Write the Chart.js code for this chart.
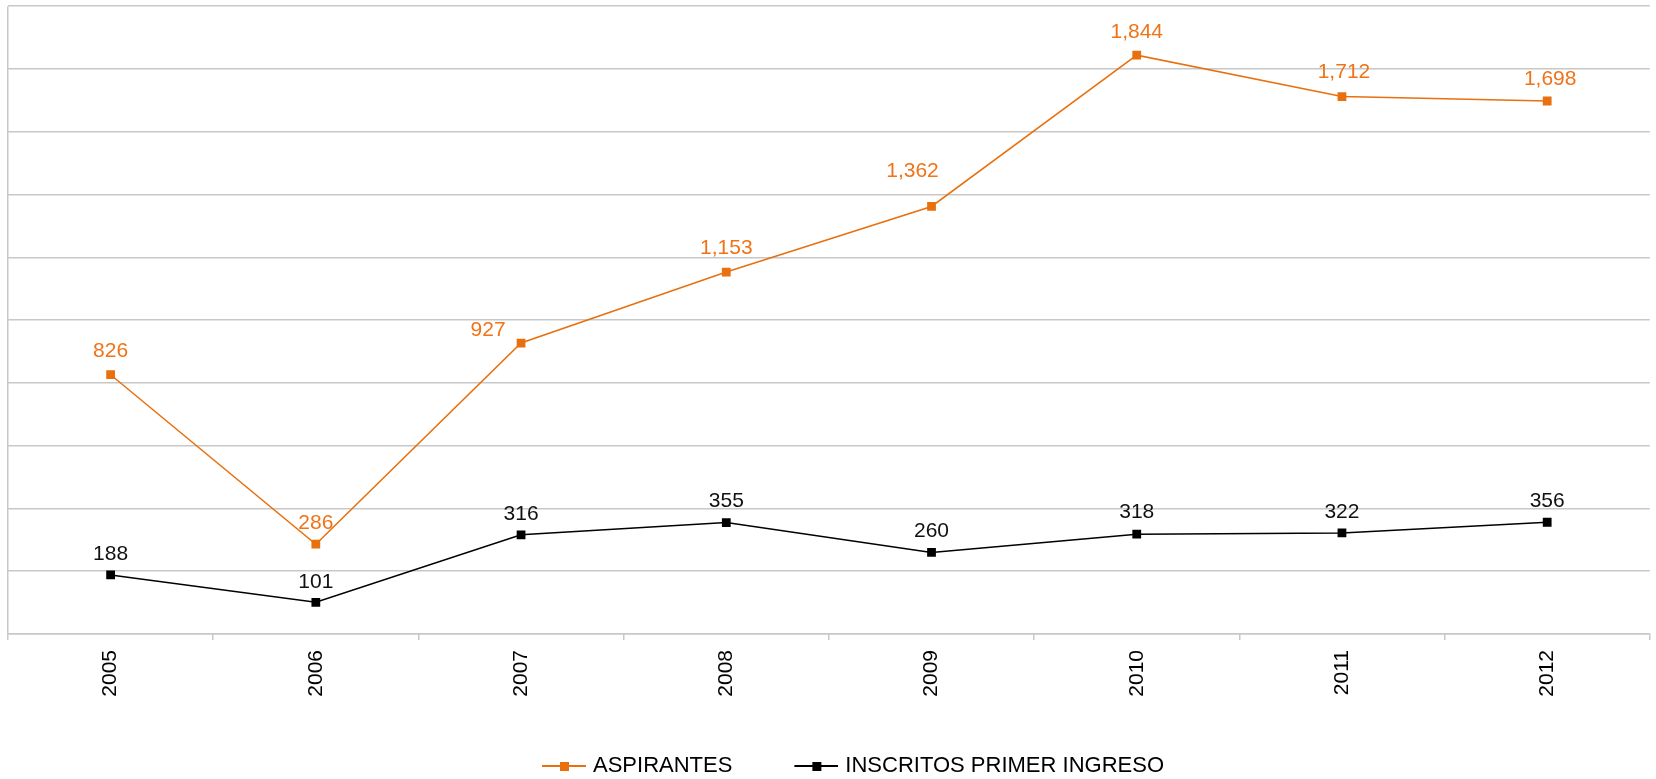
<!DOCTYPE html>
<html>
<head>
<meta charset="utf-8">
<script src="https://cdn.jsdelivr.net/npm/chart.js@4.4.1/dist/chart.umd.min.js"></script>
<style>
  body { margin: 0; background: #fff; }
  #wrap { width: 1656px; height: 779px; }
</style>
</head>
<body>
<div id="wrap"><canvas id="graf" width="1656" height="779"></canvas></div>
<script>
// Datos
const anios = ['2005', '2006', '2007', '2008', '2009', '2010', '2011', '2012'];
const aspirantes = [826, 286, 927, 1153, 1362, 1844, 1712, 1698];
const inscritos = [188, 101, 316, 355, 260, 318, 322, 356];

// Desplazamiento de algunas etiquetas (como en el original)
const offsetAspX = [0, 0, -33, 0, -19, 0, 2, 3];
const offsetAspY = [-24, -21, -13, -24, -35, -23, -24, -22];
const offsetInsX = [0, 0, 0, 0, 0, 0, 0, 0];
const offsetInsY = [-21, -20, -21, -21, -21, -22, -21, -21];

const naranja = '#E8700E';
const negro = '#000000';
const gris = '#c8c8c8';
const fuente = "'Liberation Sans', Arial, sans-serif";

// Icono de leyenda: hueco a la izquierda + línea con marcador cuadrado
const huecoLeyenda = 38;
const largoLinea = 44;
const sobra = 4; // la línea se acerca un poco más al texto
function iconoLeyenda(color) {
    const c = document.createElement('canvas');
    c.width = huecoLeyenda + largoLinea + 2 * sobra;
    c.height = 10;
    const g = c.getContext('2d');
    const x0 = huecoLeyenda + 2 * sobra;
    g.strokeStyle = color;
    g.lineWidth = 2;
    g.beginPath();
    g.moveTo(x0, 5);
    g.lineTo(x0 + largoLinea, 5);
    g.stroke();
    g.fillStyle = color;
    g.fillRect(x0 + 18, 1, 9, 9);
    return c;
}

// Etiquetas de datos encima de cada punto
const etiquetas = {
    id: 'etiquetas',
    afterDatasetsDraw(chart) {
        const ctx = chart.ctx;
        ctx.save();
        ctx.font = '21px ' + fuente;
        ctx.textAlign = 'center';
        ctx.textBaseline = 'middle';
        chart.data.datasets.forEach((ds, i) => {
            const meta = chart.getDatasetMeta(i);
            meta.data.forEach((p, j) => {
                ctx.fillStyle = ds.labelColor;
                const txt = ds.data[j].toLocaleString('en-US');
                ctx.fillText(txt, p.x + ds.offX[j], p.y + ds.offY[j]);
            });
        });
        ctx.restore();
    }
};

// Mover la leyenda a su sitio
const moverLeyenda = {
    id: 'moverLeyenda',
    afterLayout(chart) {
        const l = chart.legend;
        l.top += 8; l.bottom += 8;
        l.left += 3; l.right += 3;
    }
};

new Chart(document.getElementById('graf'), {
    type: 'line',
    data: {
        labels: anios,
        datasets: [{
            label: 'ASPIRANTES',
            data: aspirantes,
            borderColor: naranja,
            backgroundColor: naranja,
            borderWidth: 1.5,
            pointStyle: 'rect',
            pointRadius: 6.2,
            pointBorderWidth: 0,
            tension: 0,
            labelColor: '#F07318',
            offX: offsetAspX,
            offY: offsetAspY
        }, {
            label: 'INSCRITOS PRIMER INGRESO',
            data: inscritos,
            borderColor: negro,
            backgroundColor: negro,
            borderWidth: 1.5,
            pointStyle: 'rect',
            pointRadius: 6.2,
            pointBorderWidth: 0,
            tension: 0,
            labelColor: '#111111',
            offX: offsetInsX,
            offY: offsetInsY
        }]
    },
    options: {
        responsive: false,
        animation: false,
        devicePixelRatio: 1,
        layout: { padding: { left: 8, right: 6, top: 5, bottom: 0 } },
        scales: {
            x: {
                offset: true,
                grid: {
                    offset: true,
                    color: ctx => (ctx.index === 0 || ctx.index === anios.length) ? gris : 'rgba(0,0,0,0)',
                    tickColor: gris,
                    tickLength: 6,
                    lineWidth: 1.5
                },
                border: { display: true, color: gris, width: 1.5 },
                ticks: {
                    minRotation: 90,
                    maxRotation: 90,
                    padding: 10,
                    color: '#000',
                    font: { family: fuente, size: 21 }
                },
                afterFit: scale => { scale.height = 93; }
            },
            y: {
                min: 0,
                max: 2000,
                ticks: { display: false, stepSize: 200 },
                grid: { color: gris, lineWidth: 1.5, drawTicks: false },
                border: { display: false }
            }
        },
        plugins: {
            legend: {
                position: 'bottom',
                labels: {
                    usePointStyle: true,
                    pointStyleWidth: huecoLeyenda + largoLinea,
                    padding: 20,
                    color: '#000',
                    font: { family: fuente, size: 22 },
                    generateLabels: chart => {
                        const items = Chart.defaults.plugins.legend.labels.generateLabels(chart);
                        items.forEach(it => {
                            it.pointStyle = iconoLeyenda(chart.data.datasets[it.datasetIndex].borderColor);
                        });
                        return items;
                    }
                }
            },
            tooltip: { enabled: false }
        }
    },
    plugins: [etiquetas, moverLeyenda]
});
</script>
</body>
</html>
